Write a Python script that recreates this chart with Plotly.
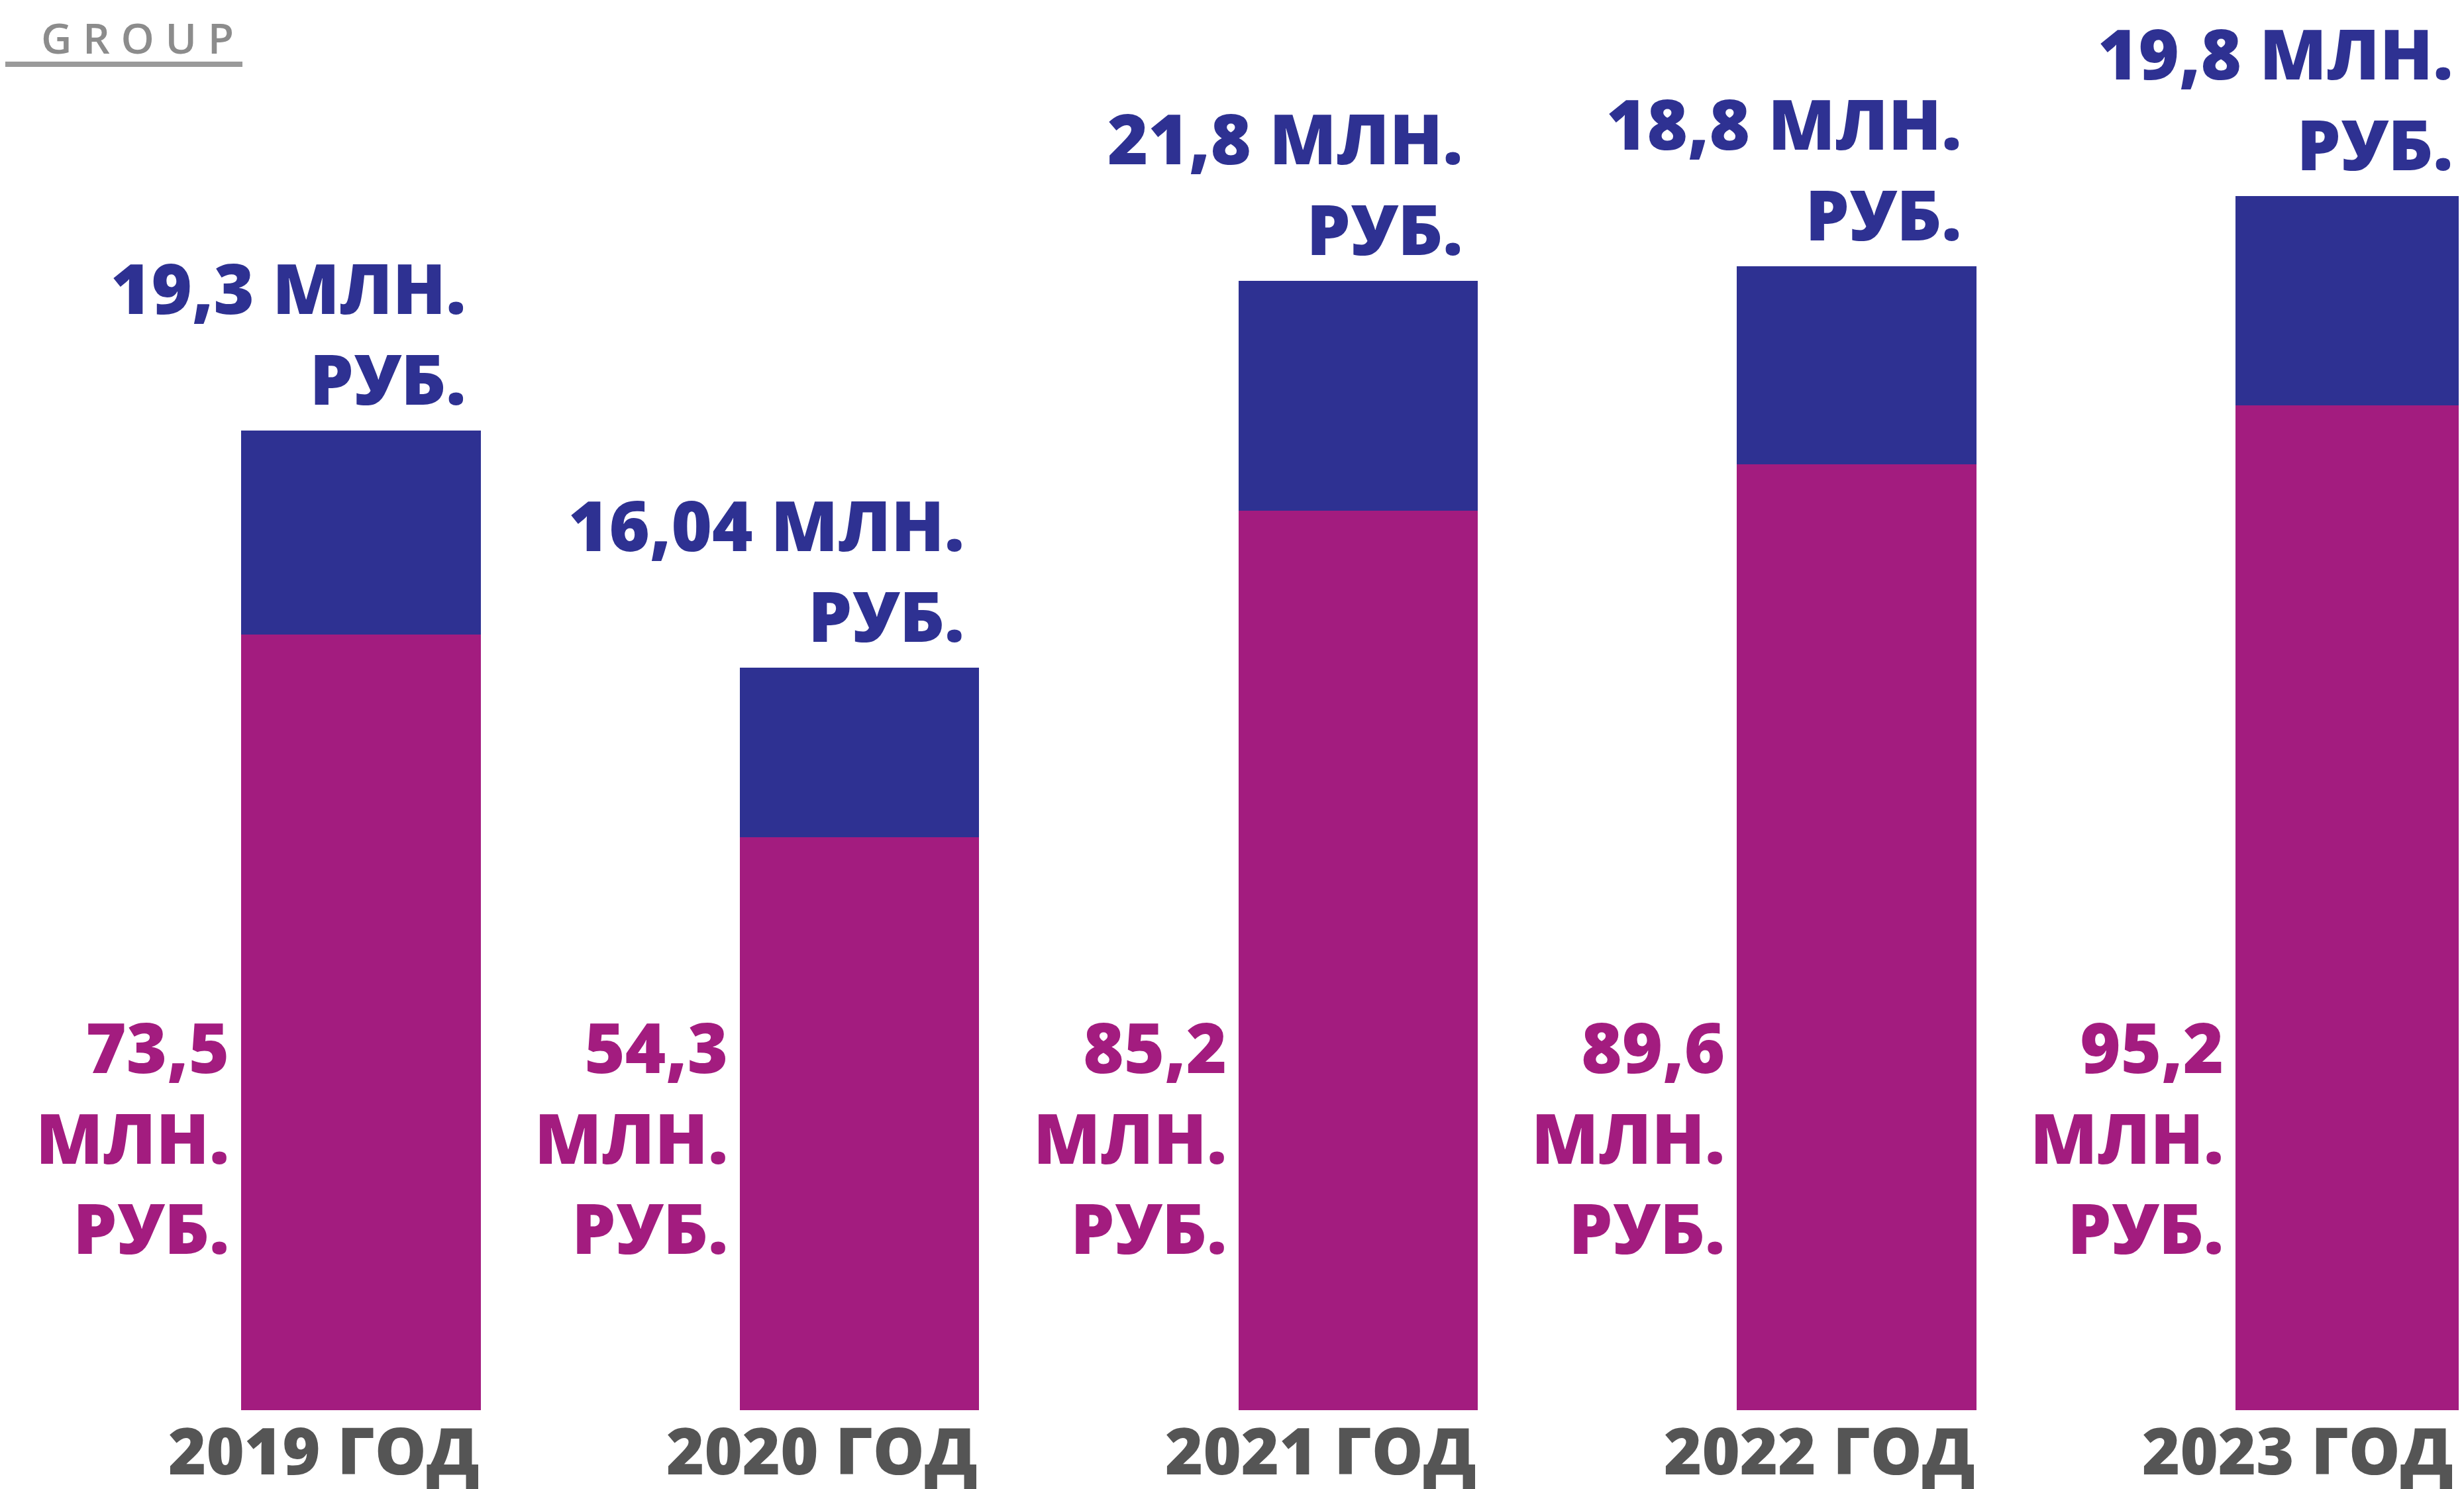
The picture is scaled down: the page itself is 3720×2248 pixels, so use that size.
import plotly.graph_objects as go

# ---- data ----
years = ["2019", "2020", "2021", "2022", "2023"]
year_labels = ["2019 ГОД", "2020 ГОД", "2021 ГОД", "2022 ГОД", "2023 ГОД"]
magenta_values = [73.5, 54.3, 85.2, 89.6, 95.2]
magenta_labels = ["73,5", "54,3", "85,2", "89,6", "95,2"]
blue_values = [19.3, 16.04, 21.8, 18.8, 19.8]
blue_labels = ["19,3", "16,04", "21,8", "18,8", "19,8"]
unit_line1 = "МЛН."
unit_line2 = "РУБ."

# ---- style ----
MAGENTA = "#A31C7F"
BLUE = "#2E3192"
GRAY = "#555555"
FONT = "Open Sans"
W, H = 3720, 2248
BAR_W = 0.48
PLOT_BOTTOM = 2121  # px from top
X0, X1 = -0.7133, 4.2287
Y_TOP = 133.1
RIGHT_LIMIT = 3698 / W  # keep right-anchored texts inside the page

def xpaper(v):
    return (v - X0) / (X1 - X0)

def ypaper(px_from_top):
    return (PLOT_BOTTOM - px_from_top) / PLOT_BOTTOM

fig = go.Figure()
fig.add_trace(go.Bar(x=years, y=magenta_values, marker=dict(color=MAGENTA, line=dict(width=0)),
                     width=BAR_W, hoverinfo="skip", showlegend=False))
fig.add_trace(go.Bar(x=years, y=blue_values, marker=dict(color=BLUE, line=dict(width=0)),
                     width=BAR_W, hoverinfo="skip", showlegend=False))

annotations = []
totals = [m + b for m, b in zip(magenta_values, blue_values)]
for i, yr in enumerate(years):
    # blue label above the bar, right-aligned near bar's right edge
    annotations.append(dict(
        x=min(xpaper(i + BAR_W / 2) - 20 / W, RIGHT_LIMIT), y=totals[i], xref="paper", yref="y",
        xanchor="right", yanchor="bottom", align="right",
        yshift=6,
        text=f"{blue_labels[i]} {unit_line1}<br>{unit_line2}",
        showarrow=False,
        font=dict(family=FONT, size=105, color=BLUE, weight=800),
    ))
    # magenta label left of bar at fixed height
    annotations.append(dict(
        x=xpaper(i - BAR_W / 2), y=ypaper(1708), xref="paper", yref="paper",
        xanchor="right", yanchor="middle", align="right",
        xshift=-16,
        text=f"{magenta_labels[i]}<br>{unit_line1}<br>{unit_line2}",
        showarrow=False,
        font=dict(family=FONT, size=105, color=MAGENTA, weight=800),
    ))
    # year label under bar, right-aligned to bar's right edge
    annotations.append(dict(
        x=min(xpaper(i + BAR_W / 2), RIGHT_LIMIT), y=ypaper(2180), xref="paper", yref="paper",
        xanchor="right", yanchor="middle", align="right",
        text=year_labels[i],
        showarrow=False,
        font=dict(family=FONT, size=98, color=GRAY, weight=800),
    ))

# logo fragment (top-left)
annotations.append(dict(
    x=52 / W, y=ypaper(48), xref="paper", yref="paper", showarrow=False,
    text="G R O U P", xanchor="left", yanchor="middle",
    font=dict(family=FONT, size=64, color="#8C8C8C", weight=600),
))

fig.update_layout(
    width=W, height=H,
    margin=dict(l=0, r=0, t=0, b=H - PLOT_BOTTOM, pad=0),
    paper_bgcolor="white", plot_bgcolor="white",
    barmode="stack",
    xaxis=dict(type="category", range=[X0, X1], showticklabels=False,
               showgrid=False, zeroline=False, showline=False, ticks=""),
    yaxis=dict(range=[0, Y_TOP], showticklabels=False, showgrid=False,
               zeroline=False, showline=False, ticks=""),
    showlegend=False,
    annotations=annotations,
)

# logo underline
fig.add_shape(type="line", xref="paper", yref="paper",
              x0=0, x1=358 / W, y0=ypaper(89), y1=ypaper(89),
              line=dict(color="#9A9A9A", width=8))

fig.write_html("out.html")
